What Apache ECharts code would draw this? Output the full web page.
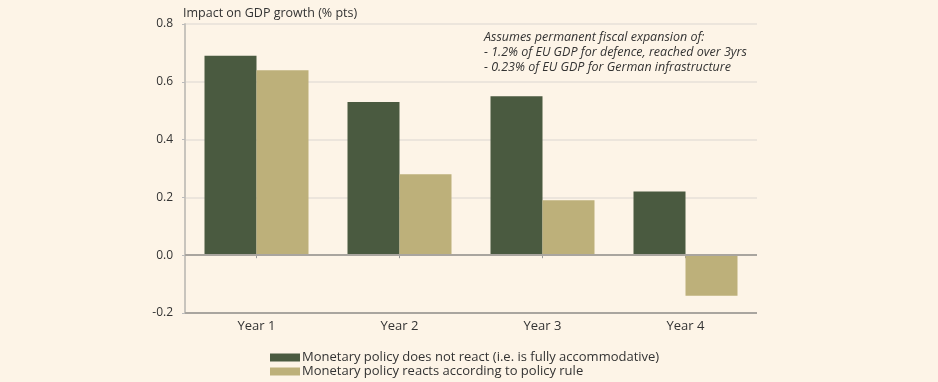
<!DOCTYPE html>
<html><head><meta charset="utf-8">
<script src="https://cdn.jsdelivr.net/npm/echarts@6/dist/echarts.min.js"></script>
<style>html,body{margin:0;padding:0;background:#fdf4e7;}#c{width:938px;height:382px;}</style>
</head><body><div id="c"></div>
<script>
const categories = ['Year 1', 'Year 2', 'Year 3', 'Year 4'];
const noReact = [0.69, 0.53, 0.55, 0.22];
const reacts = [0.64, 0.28, 0.19, -0.14];
const seriesNames = ['Monetary policy does not react (i.e. is fully accommodative)', 'Monetary policy reacts according to policy rule'];
const yTicks = { min: -0.2, max: 0.8, interval: 0.2 };
const yTitle = 'Impact on GDP growth (% pts)';
const noteLines = ['Assumes permanent fiscal expansion of:', '- 1.2% of EU GDP for defence, reached over 3yrs', '- 0.23% of EU GDP for German infrastructure'];

const FONT = 'Open Sans';
const legendBase = {
  orient: 'vertical', left: 265, itemWidth: 30, itemHeight: 8, itemGap: 6,
  icon: 'rect', textStyle: { fontSize: 13, color: '#333', fontFamily: FONT, padding: [0, 0, 0, -3] }
};
const chart = echarts.init(document.getElementById('c'), null, { renderer: 'canvas' });
chart.setOption({
  backgroundColor: '#fdf4e7',
  animation: false,
  textStyle: { fontFamily: FONT, color: '#333' },
  graphic: [
    { type: 'text', left: 183, top: 7, style: { text: yTitle, font: '12.5px "' + FONT + '"', fill: '#333' } },
    { type: 'text', left: 484, top: 30, style: { text: noteLines.join('\n'), font: 'italic 12.5px "' + FONT + '"', fill: '#333', lineHeight: 15 } }
  ],
  legend: [
    Object.assign({}, legendBase, { top: 346, data: [seriesNames[0]] }),
    Object.assign({}, legendBase, { top: 360, data: [seriesNames[1]] })
  ],
  grid: { left: 185, right: 181, top: 24, bottom: 69, containLabel: false },
  xAxis: {
    type: 'category', data: categories,
    axisLine: { show: false },
    axisTick: { show: true, alignWithLabel: true, length: 3, lineStyle: { color: '#999' } },
    axisLabel: { fontSize: 13, color: '#333', margin: 7, fontFamily: FONT }
  },
  yAxis: {
    type: 'value', min: yTicks.min, max: yTicks.max, interval: yTicks.interval,
    axisLine: { show: true, lineStyle: { color: '#c8c4bd', width: 2 } },
    axisTick: { show: true, length: 3, lineStyle: { color: '#bbb' } },
    axisLabel: { fontSize: 12, color: '#333', margin: 12, fontFamily: FONT, formatter: v => v.toFixed(1) },
    splitLine: { show: true, lineStyle: { color: '#e6e0d8', width: 1.5 } }
  },
  series: [
    { name: seriesNames[0], type: 'bar', data: noReact, barWidth: 52, barGap: '0%', itemStyle: { color: '#4a5a40' },
      markLine: { silent: true, symbol: 'none', label: { show: false }, lineStyle: { color: '#a9a59f', width: 2, type: 'solid' }, data: [{ yAxis: 0 }, { yAxis: -0.2 }] } },
    { name: seriesNames[1], type: 'bar', data: reacts, barWidth: 52, barGap: '0%', itemStyle: { color: '#bdb07a' } }
  ]
});
</script></body></html>
